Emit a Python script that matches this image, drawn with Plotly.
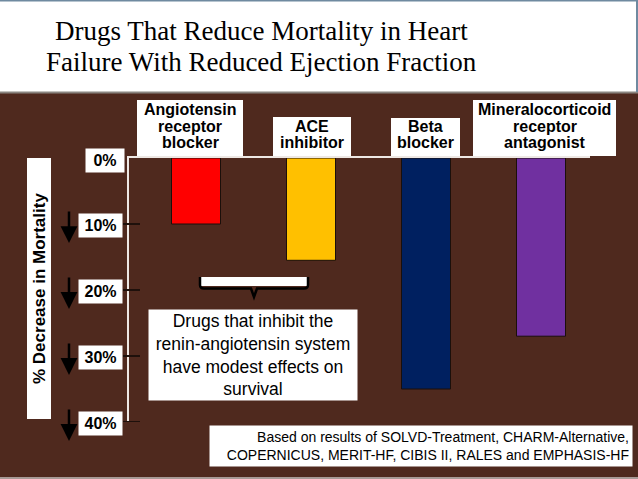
import plotly.graph_objects as go

# ---------------- data ----------------
categories = ["Angiotensin<br>receptor<br>blocker", "ACE<br>inhibitor", "Beta<br>blocker",
              "Mineralocorticoid<br>receptor<br>antagonist"]
mortality_decrease = [10, 15.5, 35, 27]
bar_colors = ["#FF0000", "#FFC000", "#002060", "#7030A0"]
tick_values = [0, 10, 20, 30, 40]
tick_labels = ["0%", "10%", "20%", "30%", "40%"]
title_lines = ["Drugs That Reduce Mortality in Heart", "Failure With Reduced Ejection Fraction"]
y_title = "% Decrease in Mortality"
note_text = "Drugs that inhibit the<br>renin-angiotensin system<br>have modest effects on<br>survival"
source_text = ("Based on results of SOLVD-Treatment, CHARM-Alternative,<br>"
               "COPERNICUS, MERIT-HF, CIBIS II, RALES and EMPHASIS-HF")

# ---------------- layout geometry (pixels) ----------------
W, H = 638, 479
L, R, T, B = 129, 590, 158, 422
BROWN = "#4F291E"
SANS = "Liberation Sans, Arial, sans-serif"
SERIF = "Liberation Serif, Times New Roman, serif"


def px(x):
    return (x - L) / (R - L)


def py(y):
    return (B - y) / (B - T)


fig = go.Figure()
fig.add_trace(go.Bar(
    x=categories, y=mortality_decrease, width=0.426,
    marker=dict(color=bar_colors, line=dict(color="#1b0f0a", width=1)),
    hoverinfo="skip",
))

shapes = []
annotations = []

# title band
shapes.append(dict(type="rect", xref="paper", yref="paper", x0=px(0), x1=px(W), y0=py(92), y1=py(0),
                   fillcolor="white", line=dict(width=0)))
shapes.append(dict(type="line", xref="paper", yref="paper", x0=px(0), x1=px(W), y0=py(92.5), y1=py(92.5),
                   line=dict(color="#8a8580", width=2)))
shapes.append(dict(type="line", xref="paper", yref="paper", x0=px(0), x1=px(W), y0=py(0.5), y1=py(0.5),
                   line=dict(color="#6f8aa0", width=2)))
shapes.append(dict(type="line", xref="paper", yref="paper", x0=px(637), x1=px(637), y0=py(0), y1=py(92),
                   line=dict(color="#6f8aa0", width=2)))
shapes.append(dict(type="line", xref="paper", yref="paper", x0=px(0), x1=px(W), y0=py(478), y1=py(478),
                   line=dict(color="#a89a96", width=2)))
for i, line in enumerate(title_lines):
    annotations.append(dict(text=line, xref="paper", yref="paper", x=px(261), y=py(31 + 31 * i),
                            xanchor="center", yanchor="middle", showarrow=False,
                            font=dict(family=SERIF, size=27, color="black")))

# category label boxes
label_boxes = [(137, 243, 100), (273, 351, 117), (391, 460, 118), (473, 616, 100)]
for cat, (bx0, bx1, by0) in zip(categories, label_boxes):
    shapes.append(dict(type="rect", xref="paper", yref="paper", x0=px(bx0), x1=px(bx1),
                       y0=py(156), y1=py(by0), fillcolor="white", line=dict(width=0)))
    lines = cat.split("<br>")
    n = len(lines)
    for j, ln in enumerate(lines):
        cy = 143 - 16.5 * (n - 1 - j)
        annotations.append(dict(text=ln, xref="paper", yref="paper", x=px((bx0 + bx1) / 2), y=py(cy),
                                xanchor="center", yanchor="middle", showarrow=False,
                                font=dict(family=SANS, size=16, color="black", weight="bold")))

# tick marks, tick label boxes and arrows
for v, lab in zip(tick_values, tick_labels):
    if v > 0:
        shapes.append(dict(type="line", xref="paper", yref="y", x0=px(123), x1=px(140), y0=v, y1=v,
                           line=dict(color="#1e100b", width=2)))
        annotations.append(dict(text="", xref="paper", yref="y", x=px(69), y=v, yshift=-19,
                                showarrow=True, ax=0, ay=-33, arrowhead=2, arrowsize=1.35,
                                arrowwidth=2.5, arrowcolor="black"))
    annotations.append(dict(text=lab, xref="paper", yref="y", x=px(125 if v == 0 else 123), y=v,
                            yshift=-2 if v == 0 else -1,
                            xanchor="right", yanchor="middle", showarrow=False, bgcolor="white",
                            borderpad=3, width=32 if v == 0 else 37,
                            font=dict(family=SANS, size=16, color="black", weight="bold")))

# y title box
shapes.append(dict(type="rect", xref="paper", yref="paper", x0=px(27), x1=px(51), y0=py(419), y1=py(158),
                   fillcolor="white", line=dict(width=0)))
annotations.append(dict(text=y_title, xref="paper", yref="paper", x=px(39.5), y=py(288.5), textangle=-90,
                        xanchor="center", yanchor="middle", showarrow=False,
                        font=dict(family=SANS, size=17, color="black", weight="bold")))

# brace
shapes.append(dict(type="rect", xref="paper", yref="paper", x0=px(200), x1=px(308), y0=py(286), y1=py(277),
                   fillcolor="white", line=dict(width=0)))
brace = "M {},{} L {},{} Q {},{} {},{} L {},{} L {},{} L {},{} L {},{} Q {},{} {},{} L {},{}".format(
    px(200), py(277), px(200), py(285), px(200), py(288.5), px(204), py(288.5),
    px(251), py(288.5), px(254), py(297), px(257), py(288.5), px(304), py(288.5),
    px(308), py(288.5), px(308), py(285), px(308), py(277))
shapes.append(dict(type="path", xref="paper", yref="paper", path=brace,
                   line=dict(color="black", width=2.5)))

# note box
annotations.append(dict(text=note_text, xref="paper", yref="paper", x=px(253), y=py(354.5),
                        xanchor="center", yanchor="middle", showarrow=False, bgcolor="white",
                        borderpad=1, width=206,
                        font=dict(family=SANS, size=17.5, color="black")))

# source box
annotations.append(dict(text=source_text, xref="paper", yref="paper", x=px(421), y=py(446),
                        xanchor="center", yanchor="middle", showarrow=False, bgcolor="white",
                        borderpad=3, width=416, align="right",
                        font=dict(family=SANS, size=14, color="black")))

fig.update_layout(
    width=W, height=H,
    margin=dict(l=L, r=W - R, t=T, b=H - B, pad=0),
    paper_bgcolor=BROWN, plot_bgcolor=BROWN,
    showlegend=False,
    shapes=shapes, annotations=annotations,
    xaxis=dict(range=[-0.5826, 3.426], side="top", showline=True, linecolor="#EEE8E4", linewidth=2,
               showticklabels=False, ticks="", showgrid=False, zeroline=False, fixedrange=True),
    yaxis=dict(range=[40, 0], showline=True, linecolor="#EEE8E4", linewidth=2,
               showticklabels=False, ticks="", showgrid=False, zeroline=False, fixedrange=True),
)

fig.write_html("out.html", config={"displayModeBar": False},
               post_script="document.body.style.margin='0';document.body.style.overflow='hidden';")
